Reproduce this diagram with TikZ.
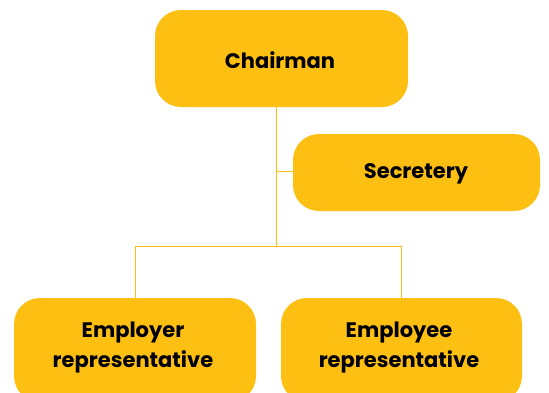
\documentclass[tikz,border=0pt]{standalone}
\usepackage{fontspec}
\setmainfont{Poppins}
\definecolor{boxfill}{HTML}{FCBF12}
\definecolor{linec}{HTML}{FCBF12}
\tikzset{
  orgbox/.style={fill=boxfill, rounded corners=26pt, inner sep=0pt, align=center},
  lbl/.style={align=center, inner sep=0pt, font=\fontsize{21}{30}\selectfont\bfseries},
  conn/.style={draw=linec, line width=1pt}
}
\begin{document}
\begin{tikzpicture}[x=1pt,y=-1pt]
\useasboundingbox (0,0) rectangle (549,392);
\clip (0,0) rectangle (549,392);
\node[orgbox, minimum width=253pt, minimum height=97pt] (chair) at (281.5,58.5) {};
\node[orgbox, minimum width=247pt, minimum height=77pt] (sec) at (416.5,172.5) {};
\node[orgbox, minimum width=242pt, minimum height=104pt] (emr) at (135,350) {};
\node[orgbox, minimum width=241pt, minimum height=104pt] (eme) at (401.5,350) {};
\node[lbl] (chairt) at (280,60) {Chairman};
\node[lbl] (sect) at (416,174) {Secretery};
\node[lbl] (emrt) at (133,348) {Employer\\representative};
\node[lbl] (emet) at (399,348) {Employee\\representative};
\coordinate (j1) at (276,171);
\coordinate (j2) at (276,246);
\coordinate (l1) at (135,246);
\coordinate (r1) at (401,246);
\draw[conn] (chair.south -| j1) -- (j2);
\draw[conn] (j1) -- (j1 -| sec.west);
\draw[conn] (l1) -- (r1);
\draw[conn] (l1) -- (l1 |- emr.north);
\draw[conn] (r1) -- (r1 |- eme.north);
\end{tikzpicture}
\end{document}
